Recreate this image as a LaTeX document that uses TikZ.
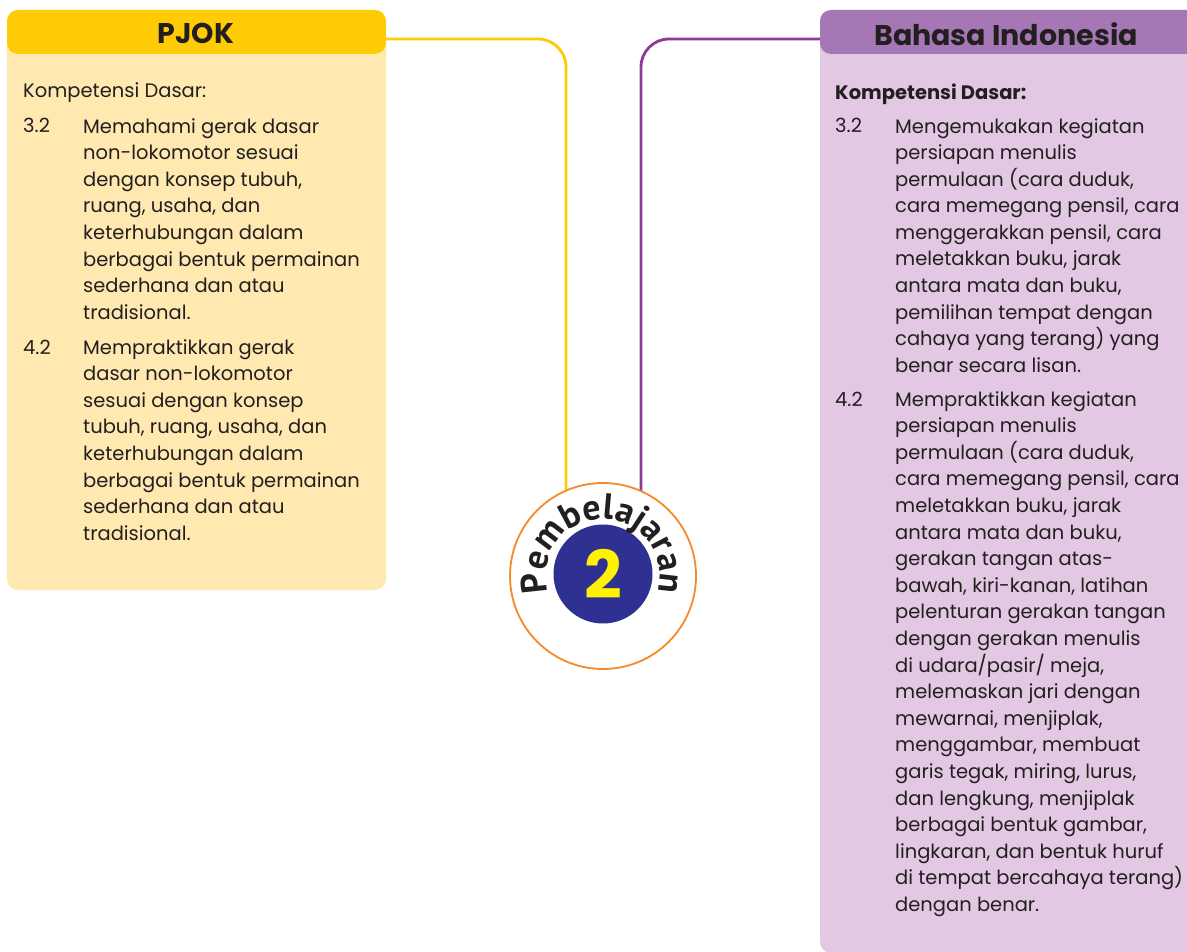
\documentclass[tikz,border=0pt]{standalone}
\usepackage{fontspec}
\setmainfont{Poppins}
\newfontfamily\badgefont{PT Sans}
\usetikzlibrary{decorations.text,backgrounds}
\definecolor{pjokhead}{HTML}{FFCB05}
\definecolor{pjokfill}{HTML}{FFE9B1}
\definecolor{bindhead}{HTML}{A577B4}
\definecolor{bindfill}{HTML}{E2C8E2}
\definecolor{bindline}{HTML}{8E3A96}
\definecolor{ringcol}{HTML}{F58A2A}
\definecolor{navy}{HTML}{2E3192}
\definecolor{digit}{HTML}{FFF200}
\definecolor{ink}{HTML}{231F20}
\tikzset{
  panel/.style={rounded corners=11pt, anchor=north west, inner sep=0pt, outer sep=0pt},
  headlabel/.style={font=\bfseries\fontsize{28.5}{28.5}\selectfont, text=ink, inner sep=0pt},
  body/.style={font=\fontsize{19.5}{26.6}\selectfont, text=ink, align=left, anchor=base west, inner sep=0pt},
  conn/.style={line width=2.8pt, rounded corners=28pt},
}
\begin{document}
\begin{tikzpicture}[x=1pt,y=1pt]
\useasboundingbox (0,0) rectangle (1187,-952);
% panels
\node[panel, fill=pjokfill, minimum width=379pt, minimum height=580pt,
  path picture={\fill[pjokhead] (path picture bounding box.north west) rectangle ([yshift=-44pt]path picture bounding box.north east);}]
  (pjokbox) at (7,-10) {};
\node[panel, fill=bindfill, minimum width=390pt, minimum height=943pt,
  path picture={\fill[bindhead] (path picture bounding box.north west) rectangle ([yshift=-44pt]path picture bounding box.north east);}]
  (bindbox) at (820,-10) {};
\node[headlabel] (pjoklabel) at (196,-33) {PJOK};
\node[headlabel] (bindlabel) at (1006,-34) {Bahasa Indonesia};
% centre badge
\node[circle, draw=ringcol, line width=1.8pt, fill=white, minimum size=186pt, inner sep=0pt] (circ) at (603,-576) {};
\node[circle, fill=navy, minimum size=99pt, inner sep=0pt, text=digit, font=\bfseries\fontsize{66}{66}\selectfont] (num) at (603,-574) {2};
\path[decorate, decoration={text along path, text align=center,
  text={|\color{ink}\badgefont\bfseries\fontsize{36}{36}\selectfont|Pembelajaran}}]
  (circ.center) ++(200:57) arc (200:-20:57);
% connectors
\coordinate (lev) at (0,-39);
\begin{scope}[on background layer]
\draw[conn, draw=pjokhead] (pjokbox.east |- lev) -| ([xshift=-37pt]circ.center);
\draw[conn, draw=bindline] (bindbox.west |- lev) -| ([xshift=38pt]circ.center);
\end{scope}
% PJOK text (base anchor = last line)
\node[body] (pkd) at (23,-98) {Kompetensi Dasar:};
\node[body] (pn1) at (23,-133) {3.2};
\node[body] (pt1) at (83,-319.2) {Memahami gerak dasar\\non-lokomotor sesuai\\dengan konsep tubuh,\\ruang, usaha, dan\\keterhubungan dalam\\berbagai bentuk permainan\\sederhana dan atau\\tradisional.};
\node[body] (pn2) at (23,-354) {4.2};
\node[body] (pt2) at (83,-540.2) {Mempraktikkan gerak\\dasar non-lokomotor\\sesuai dengan konsep\\tubuh, ruang, usaha, dan\\keterhubungan dalam\\berbagai bentuk permainan\\sederhana dan atau\\tradisional.};
% Bahasa Indonesia text
\node[body, font=\bfseries\fontsize{19.5}{26.6}\selectfont] (bkd) at (835,-100) {Kompetensi Dasar:};
\node[body] (bn1) at (835,-133) {3.2};
\node[body] (bt1) at (895,-372.4) {Mengemukakan kegiatan\\persiapan menulis\\permulaan (cara duduk,\\cara memegang pensil, cara\\menggerakkan pensil, cara\\meletakkan buku, jarak\\antara mata dan buku,\\pemilihan tempat dengan\\cahaya yang terang) yang\\benar secara lisan.};
\node[body] (bn2) at (835,-406) {4.2};
\node[body] (bt2) at (895,-911.4) {Mempraktikkan kegiatan\\persiapan menulis\\permulaan (cara duduk,\\cara memegang pensil, cara\\meletakkan buku, jarak\\antara mata dan buku,\\gerakan tangan atas-\\bawah, kiri-kanan, latihan\\pelenturan gerakan tangan\\dengan gerakan menulis\\di udara/pasir/ meja,\\melemaskan jari dengan\\mewarnai, menjiplak,\\menggambar, membuat\\garis tegak, miring, lurus,\\dan lengkung, menjiplak\\berbagai bentuk gambar,\\lingkaran, dan bentuk huruf\\di tempat bercahaya terang)\\dengan benar.};
\end{tikzpicture}
\end{document}
